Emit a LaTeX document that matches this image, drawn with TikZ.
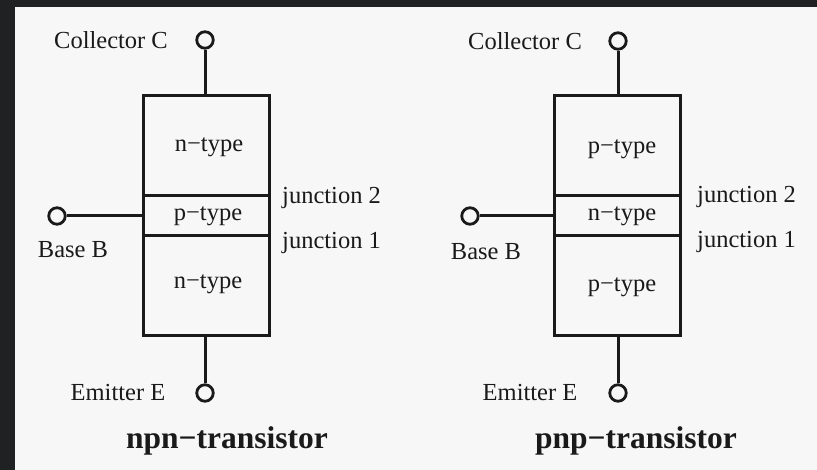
\documentclass[tikz,border=0pt]{standalone}
\usepackage{fontspec}
\setmainfont{Liberation Serif}
\definecolor{bgdark}{HTML}{1F2123}
\definecolor{paper}{HTML}{F7F7F7}
\definecolor{ink}{HTML}{1A1A1A}
\begin{document}
\begin{tikzpicture}[x=1pt,y=-1pt,
  layer/.style={draw=ink,line width=3pt,rectangle,inner sep=0pt,minimum width=126pt},
  term/.style={draw=ink,line width=2.8pt,circle,inner sep=0pt,minimum size=16.5pt,fill=paper},
  wire/.style={draw=ink,line width=3pt},
  lbl/.style={text=ink,font=\fontsize{24.5}{28}\selectfont,inner sep=0pt,anchor=base},
  lblw/.style={lbl,anchor=base west},
  ttl/.style={text=ink,font=\fontsize{31.5}{36}\selectfont\bfseries,inner sep=0pt,anchor=base}]
\useasboundingbox (0,0) rectangle (817,470);
\fill[bgdark] (0,0) rectangle (817,470);
\fill[paper] (15,7) rectangle (817,470);

% ---------- npn ----------
\node[layer,minimum height=100pt] (ntop) at (206,146) {};
\node[layer,minimum height=40pt] (nmid) at (206,216) {};
\node[layer,minimum height=100pt] (nbot) at (206,286) {};
\node[term] (nC) at (205,40) {};
\node[term] (nE) at (205,393) {};
\node[term] (nB) at (57,216) {};
\draw[wire] (nC) -- (nC |- ntop.north);
\draw[wire] (nE) -- (nE |- nbot.south);
\draw[wire] (nB) -- (nB -| nmid.west);
\node[lbl] (nt1) at (209,152) {n−type};
\node[lbl] (nt2) at (208,221) {p−type};
\node[lbl] (nt3) at (208,289) {n−type};
\node[lbl] (nCl) at (111,49) {Collector C};
\node[lbl] (nBl) at (73,258) {Base B};
\node[lbl] (nEl) at (118,400) {Emitter E};
\node[lblw] (nj2) at (282,204) {junction 2};
\node[lblw] (nj1) at (282,249) {junction 1};
\node[ttl] (ntl) at (227,448) {npn−transistor};

% ---------- pnp ----------
\node[layer,minimum height=100pt] (ptop) at (617,146) {};
\node[layer,minimum height=40pt] (pmid) at (617,216) {};
\node[layer,minimum height=100pt] (pbot) at (617,286) {};
\node[term] (pC) at (618,41) {};
\node[term] (pE) at (618,393) {};
\node[term] (pB) at (470,216) {};
\draw[wire] (pC) -- (pC |- ptop.north);
\draw[wire] (pE) -- (pE |- pbot.south);
\draw[wire] (pB) -- (pB -| pmid.west);
\node[lbl] (pt1) at (622,154) {p−type};
\node[lbl] (pt2) at (622,221) {n−type};
\node[lbl] (pt3) at (622,292) {p−type};
\node[lbl] (pCl) at (525,50) {Collector C};
\node[lbl] (pBl) at (486,260) {Base B};
\node[lbl] (pEl) at (530,400) {Emitter E};
\node[lblw] (pj2) at (697,203) {junction 2};
\node[lblw] (pj1) at (697,248) {junction 1};
\node[ttl] (ptl) at (636,448) {pnp−transistor};
\end{tikzpicture}
\end{document}
